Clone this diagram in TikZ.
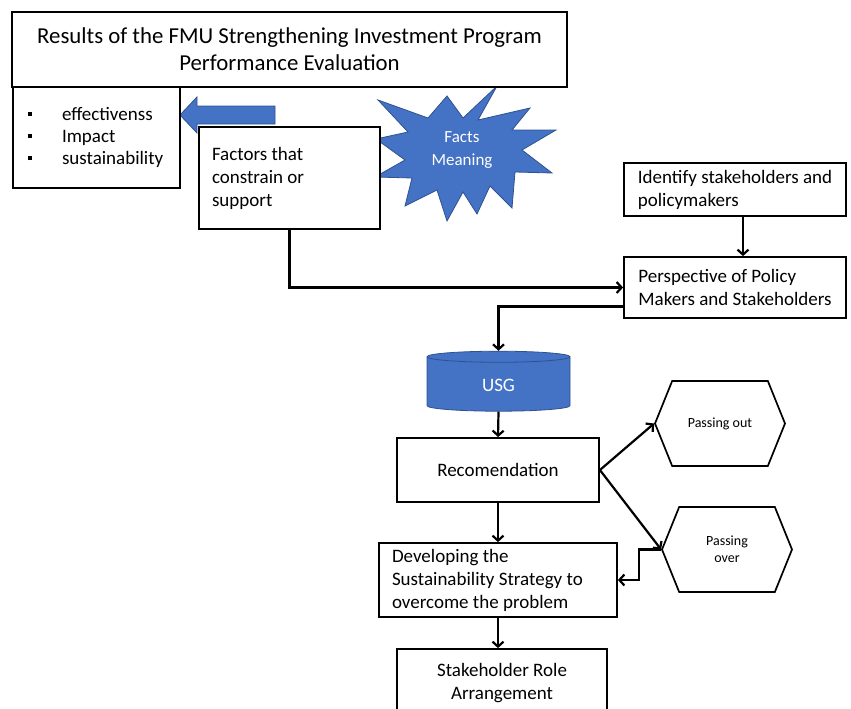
\documentclass[tikz,border=0pt]{standalone}
\usepackage{fontspec}
\setmainfont{Carlito}
\usepackage{tikz}
\usetikzlibrary{arrows.meta,positioning,shapes.geometric,shapes.symbols,calc}

\definecolor{shapeblue}{HTML}{4472C4}
\definecolor{shapeedge}{HTML}{2F528F}
\newcommand{\critmark}{\makebox[34pt][l]{\rule[0.22em]{4pt}{4pt}}}

\begin{document}
\begin{tikzpicture}[
  x=1pt, y=-1pt,
  box/.style={draw, line width=1.8pt, fill=white, inner sep=0pt, font=\fontsize{19}{23}\selectfont},
  lbox/.style={box, align=flush left, inner xsep=13pt},
  cbox/.style={box, align=center},
  hexa/.style={draw, line width=1.7pt, fill=white, signal, signal to=west and east,
    signal pointer angle=136, minimum width=130pt, minimum height=85pt, inner sep=0pt,
    align=center, font=\fontsize{14}{17}\selectfont},
  bluefill/.style={fill=shapeblue, draw=shapeedge, line width=0.8pt},
  arrow/.style={-{Straight Barb[length=5pt,width=11pt]}, line width=2.2pt}
]
  \useasboundingbox (0,0) rectangle (851,709);

  % blue arrow and star behind the boxes
  \fill[bluefill] (180,115) -- (197,97) -- (197,106) -- (275,106) -- (275,124)
    -- (197,124) -- (197,133) -- cycle;
  \filldraw[bluefill] (497,86) -- (478,120) -- (530,108) -- (512,130) -- (556,130)
    -- (522,150) -- (552,173) -- (515,172) -- (512,208) -- (490,186) -- (477,214)
    -- (463,192) -- (447,221) -- (437,190) -- (405,206) -- (412,178) -- (375,177)
    -- (405,160) -- (376,139) -- (408,132) -- (378,100) -- (428,118) -- (447,96)
    -- (463,118) -- cycle;
  \node[font=\fontsize{17}{23}\selectfont, text=white, align=center] (facts) at (462,150) {Facts\\Meaning};

  \node[cbox, font=\fontsize{22.8}{27}\selectfont, minimum width=555pt, minimum height=75pt] (title) at (289.5,49.5)
    {Results of the FMU Strengthening Investment Program\\Performance Evaluation};
  \node[lbox, inner xsep=15pt, text width=137pt, minimum height=101pt, font=\fontsize{19}{22}\selectfont] (crit) at (96.5,137.5)
    {\critmark effectivenss\\\critmark Impact\\\critmark sustainability};
  \node[lbox, text width=155pt, minimum height=102pt] (factors) at (289.5,178) {Factors that\\constrain or\\support};

  \node[box, align=left, minimum width=222pt, minimum height=53pt] (identify) at (735,189.5) {Identify stakeholders and\\policymakers};
  \node[box, align=left, minimum width=222pt, minimum height=61pt] (persp) at (735,287.5) {Perspective of Policy\\Makers and Stakeholders};

  \node[cylinder, shape border rotate=90, aspect=0.28, bluefill, minimum width=143pt, minimum height=60pt,
    text=white, font=\fontsize{19}{23}\selectfont] (usg) at (498.5,385) {USG};
  \node[cbox, minimum width=202pt, minimum height=64pt] (recom) at (498,470) {Recomendation};
  \node[hexa] (pout) at (720,423.5) {Passing out};
  \node[hexa] (pover) at (727,549.5) {Passing\\over};
  \node[lbox, text width=212pt, minimum height=74pt] (dev) at (498,580)
    {Developing the\\Sustainability Strategy to\\overcome the problem};
  \node[cbox, minimum width=210pt, minimum height=68pt] (stake) at (502,683) {Stakeholder Role\\Arrangement};

  \draw[arrow] ([xshift=8pt]identify.south) -- ([xshift=8pt]persp.north);
  \draw[arrow] (factors.south) |- (persp.west);
  \draw[arrow] ([yshift=-19pt]persp.west) -| (usg.north);
  \draw[arrow] (usg.south) -- (recom.north);
  \draw[arrow] (recom.east) -- (pout.west);
  \draw[arrow] (recom.east) -- (pover.west);
  \draw[arrow] (recom.south) -- (dev.north);
  \draw[arrow] (pover.west) -- ++(-22,0) |- (dev.east);
  \draw[arrow] (dev.south) -- (dev.south |- stake.north);
\end{tikzpicture}
\end{document}
